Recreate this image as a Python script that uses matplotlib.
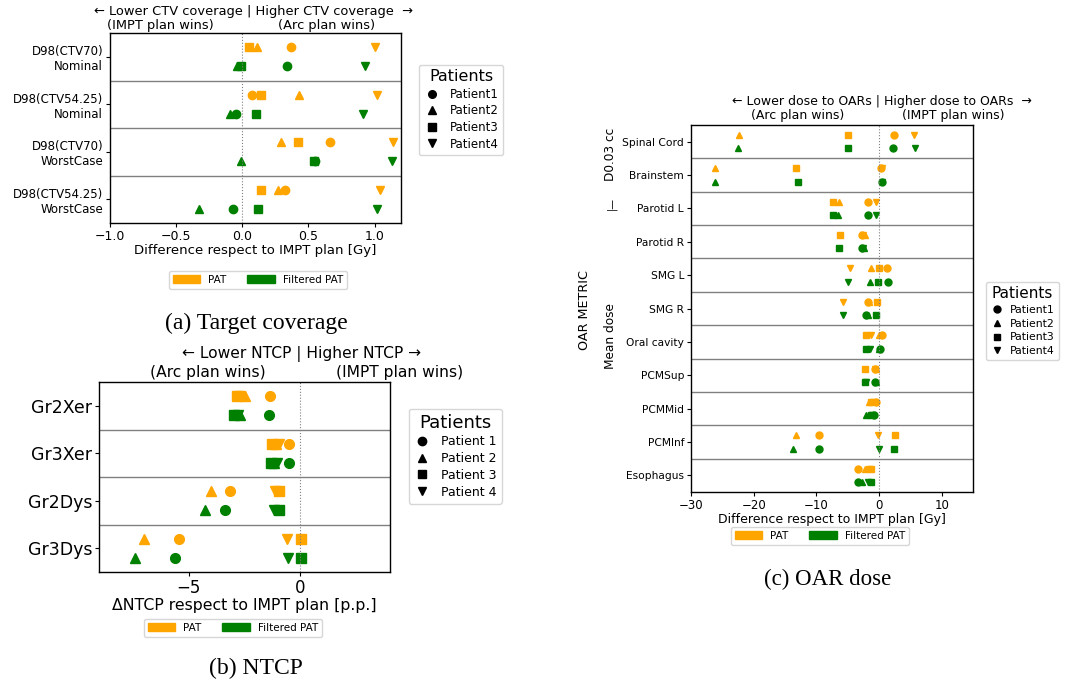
import matplotlib
matplotlib.use('Agg')
import matplotlib.pyplot as plt
from matplotlib.patches import Patch
from matplotlib.lines import Line2D

W, H = 1068, 687

markers = ['o', '^', 's', 'v']
c_pat = 'orange'
c_filt = 'green'

# (a) target coverage, rows = patient 1..4, columns = metric
ctv_labels = ['D98(CTV70)\nNominal', 'D98(CTV54.25)\nNominal',
              'D98(CTV70)\nWorstCase', 'D98(CTV54.25)\nWorstCase']
ctv_pat = [
    [0.37, 0.07, 0.66, 0.32],
    [0.11, 0.43, 0.29, 0.27],
    [0.05, 0.14, 0.42, 0.14],
    [1.00, 1.02, 1.14, 1.04],
]
ctv_filt = [
    [0.34, -0.05, 0.55, -0.07],
    [-0.04, -0.09, -0.01, -0.33],
    [-0.01, 0.10, 0.54, 0.12],
    [0.93, 0.91, 1.13, 1.02],
]

# (b) NTCP
ntcp_labels = ['Gr2Xer', 'Gr3Xer', 'Gr2Dys', 'Gr3Dys']
ntcp_pat = [
    [-1.35, -0.49, -3.16, -5.43],
    [-2.5, -1.09, -4.0, -7.0],
    [-2.85, -1.27, -0.94, 0.04],
    [-2.7, -0.97, -1.12, -0.61],
]
ntcp_filt = [
    [-1.39, -0.51, -3.36, -5.61],
    [-2.7, -1.16, -4.27, -7.37],
    [-2.95, -1.31, -0.97, 0.04],
    [-2.8, -1.04, -1.16, -0.57],
]

# (c) OAR dose
oar_labels = ['Spinal Cord', 'Brainstem', 'Parotid L', 'Parotid R', 'SMG L', 'SMG R',
              'Oral cavity', 'PCMSup', 'PCMMid', 'PCMInf', 'Esophagus']
oar_pat = [
    [2.4, 0.3, -1.8, -2.7, 1.3, -1.8, 0.4, -0.7, -0.4, -9.6, -3.4],
    [-22.4, -26.1, -6.4, -2.2, -1.2, -1.6, 0.05, -0.4, -1.6, -13.3, -2.2],
    [-5.0, -13.3, -7.4, -6.3, 0.05, -0.3, -2.1, -2.2, -1.3, 2.6, -1.2],
    [5.6, 0.5, -0.5, -2.5, -4.6, -5.8, -1.3, -0.6, -1.0, -0.2, -1.6],
]
oar_filt = [
    [2.3, 0.5, -1.8, -2.7, 1.4, -2.1, 0.2, -0.6, -0.85, -9.6, -3.4],
    [-22.5, -26.2, -6.6, -2.4, -1.4, -1.8, -0.05, -0.4, -2.1, -13.7, -2.7],
    [-5.0, -13.0, -7.4, -6.4, -0.2, -0.4, -2.1, -2.3, -1.3, 2.4, -1.3],
    [5.8, 0.4, -0.4, -2.6, -5.0, -5.8, -1.5, -2.0, -1.1, 0.0, -1.7],
]


def fx(x):
    return x / W


def fy(y):
    return 1 - y / H


def px(x, y):
    return (fx(x), fy(y))


def draw_panel(ax, labels, pat, filt, ms, fs_y, fs_x):
    n = len(labels)
    for k in range(4):
        ax.plot(pat[k], [i - 0.2 for i in range(n)], ls='none', marker=markers[k],
                color=c_pat, ms=ms)
        ax.plot(filt[k], [i + 0.2 for i in range(n)], ls='none', marker=markers[k],
                color=c_filt, ms=ms)
    for i in range(1, n):
        ax.axhline(i - 0.5, color='gray', lw=1)
    ax.axvline(0, color='gray', ls=':', lw=0.8)
    ax.set_yticks(range(n))
    ax.set_yticklabels(labels, fontsize=fs_y)
    ax.set_ylim(n - 0.5, -0.5)
    ax.tick_params(axis='x', labelsize=fs_x, pad=2, length=3)
    ax.tick_params(axis='y', pad=2, length=3)
    for s in ax.spines.values():
        s.set_linewidth(1.0)


def patients_legend(fig, names, ms, fs, tfs, loc, anchor):
    handles = [Line2D([], [], ls='none', marker=m, color='black', ms=ms) for m in markers]
    fig.legend(handles, names, title='Patients', loc=loc, bbox_to_anchor=anchor,
               fontsize=fs, title_fontsize=tfs, handlelength=1.4, labelspacing=0.3)


def pat_legend(fig, fs, anchor):
    handles = [Patch(color=c_pat), Patch(color=c_filt)]
    fig.legend(handles, ['PAT', 'Filtered PAT'], loc='center', bbox_to_anchor=anchor,
               ncol=2, fontsize=fs, handlelength=2.6, handleheight=0.8, columnspacing=2.0,
               borderpad=0.4)


fig = plt.figure(figsize=(W / 100, H / 100), dpi=100)

# ---- (a)
ax_a = fig.add_axes([fx(110), fy(223), fx(291), 190 / H])
draw_panel(ax_a, ctv_labels, ctv_pat, ctv_filt, 6, 8.5, 9)
ax_a.set_xlim(-1.0, 1.2)
ax_a.set_xticks([-1.0, -0.5, 0.0, 0.5, 1.0])
ax_a.set_xlabel('Difference respect to IMPT plan [Gy]', fontsize=9.5, labelpad=1)
fig.text(*px(253, 12), '\u2190 Lower CTV coverage | Higher CTV coverage  \u2192',
         ha='center', va='center', fontsize=9.4)
fig.text(*px(160, 26), '(IMPT plan wins)', ha='center', va='center', fontsize=9.4)
fig.text(*px(327, 26), '(Arc plan wins)', ha='center', va='center', fontsize=9.4)
patients_legend(fig, ['Patient1', 'Patient2', 'Patient3', 'Patient4'], 5.5, 8.5, 11.5,
                'center', px(461, 110))
pat_legend(fig, 7.5, px(258, 280))
fig.text(*px(256, 323), '(a) Target coverage', ha='center', va='center',
         fontsize=17, family='Liberation Serif')

# ---- (b)
ax_b = fig.add_axes([fx(99), fy(572), fx(291), 190 / H])
draw_panel(ax_b, ntcp_labels, ntcp_pat, ntcp_filt, 7, 12.5, 12)
ax_b.set_xlim(-9, 4)
ax_b.set_xticks([-5, 0])
ax_b.set_xlabel('\u0394NTCP respect to IMPT plan [p.p.]', fontsize=11.3, labelpad=1)
fig.text(*px(302, 354), '\u2190 Lower NTCP | Higher NTCP \u2192',
         ha='center', va='center', fontsize=11.2)
fig.text(*px(208, 372), '(Arc plan wins)', ha='center', va='center', fontsize=11.2)
fig.text(*px(400, 372), '(IMPT plan wins)', ha='center', va='center', fontsize=11.2)
patients_legend(fig, ['Patient 1', 'Patient 2', 'Patient 3', 'Patient 4'], 6, 9, 13,
                'center', px(455, 456))
pat_legend(fig, 7.5, px(233, 628))
fig.text(*px(256, 668), '(b) NTCP', ha='center', va='center',
         fontsize=17, family='Liberation Serif')

# ---- (c)
ax_c = fig.add_axes([fx(691), fy(492), fx(282), 367 / H])
draw_panel(ax_c, oar_labels, oar_pat, oar_filt, 5, 7.7, 8.5)
ax_c.set_xlim(-30, 15)
ax_c.set_xticks([-30, -20, -10, 0, 10])
ax_c.set_xlabel('Difference respect to IMPT plan [Gy]', fontsize=9, labelpad=1)
fig.text(*px(882, 102), '\u2190 Lower dose to OARs | Higher dose to OARs  \u2192',
         ha='center', va='center', fontsize=9)
fig.text(*px(798, 116), '(Arc plan wins)', ha='center', va='center', fontsize=9)
fig.text(*px(953, 116), '(IMPT plan wins)', ha='center', va='center', fontsize=9)
fig.text(*px(611, 154), 'D0.03 cc', rotation=90, ha='center', va='center', fontsize=8.7)
fig.text(*px(611, 203), '|\u2014', rotation=90, ha='center', va='center', fontsize=7)
fig.text(*px(611, 336), 'Mean dose', rotation=90, ha='center', va='center', fontsize=8.7)
fig.text(*px(585, 310), 'OAR METRIC', rotation=90, ha='center', va='center', fontsize=9.2)
handles_c = [Line2D([], [], ls='none', marker=m, color='black', ms=5) for m in markers]
fig.legend(handles_c, ['Patient1', 'Patient2', 'Patient3', 'Patient4'], title='Patients',
           loc='center left', bbox_to_anchor=px(986, 321), fontsize=7.8, title_fontsize=11,
           handlelength=1.2, handletextpad=0.6, labelspacing=0.35, borderaxespad=0)
pat_legend(fig, 7.5, px(820, 536))
fig.text(*px(828, 579), '(c) OAR dose', ha='center', va='center',
         fontsize=16.5, family='Liberation Serif')

fig.savefig('out.png', dpi=100)
